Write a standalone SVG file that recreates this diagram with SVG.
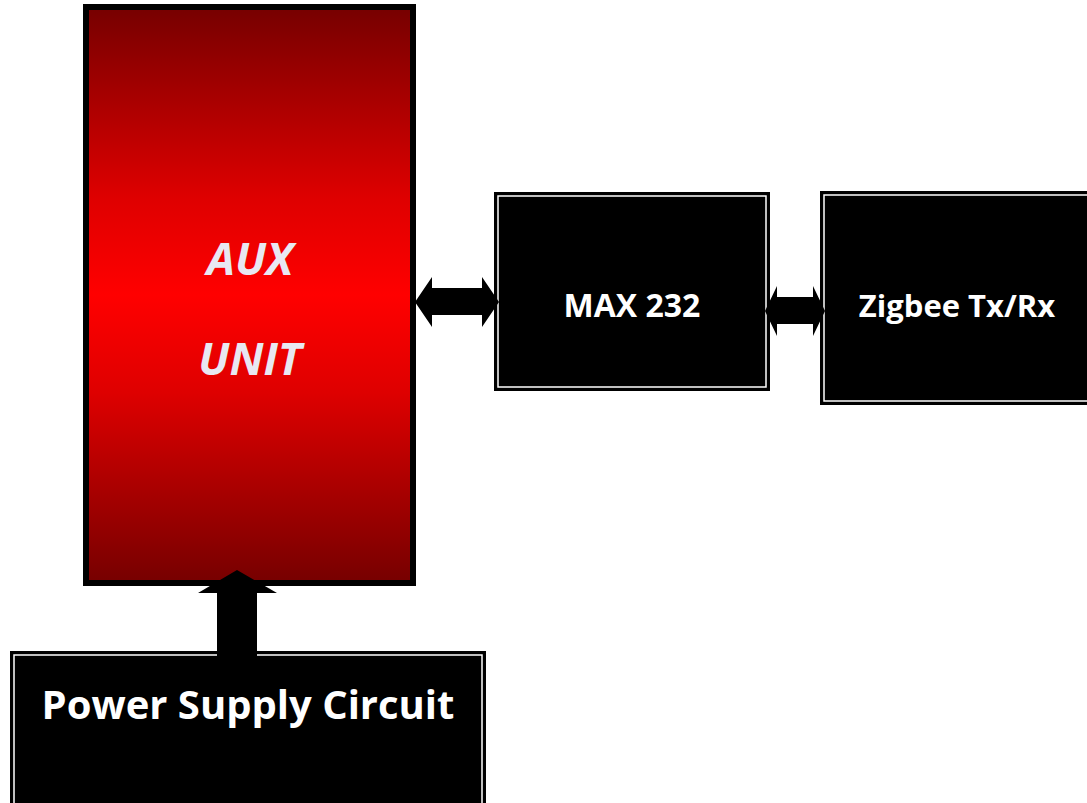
<svg xmlns="http://www.w3.org/2000/svg" width="1087" height="803" viewBox="0 0 1087 803">
<defs>
<linearGradient id="redg" x1="0" y1="0" x2="0" y2="1">
<stop offset="0" stop-color="#760000"/>
<stop offset="0.16" stop-color="#a80000"/>
<stop offset="0.33" stop-color="#de0000"/>
<stop offset="0.5" stop-color="#ff0000"/>
<stop offset="0.67" stop-color="#de0000"/>
<stop offset="0.84" stop-color="#a80000"/>
<stop offset="1" stop-color="#760000"/>
</linearGradient>
</defs>
<style>
.box{fill:#000;stroke:#000;stroke-width:2}
.inner{fill:none;stroke:#fff;stroke-width:1.5}
.lbl{font-family:"Open Sans","Noto Sans",sans-serif;font-weight:bold;fill:#fff;text-anchor:middle}
.aux{font-family:"Open Sans","Noto Sans",sans-serif;font-weight:bold;font-style:italic;fill:#e8e8f2;text-anchor:middle;font-size:45px}
.arrow{fill:#000}
</style>
<rect width="1087" height="803" fill="#fff"/>
<g id="aux">
<rect x="86" y="7" width="327" height="576" fill="url(#redg)" stroke="#000" stroke-width="6"/>
<text class="aux" x="250" y="275">AUX</text>
<text class="aux" x="250" y="375">UNIT</text>
</g>
<g id="max232">
<rect class="box" x="495" y="193" width="274" height="197"/>
<rect class="inner" x="498" y="196" width="268" height="191"/>
<text class="lbl" x="632" y="317" font-size="32">MAX 232</text>
</g>
<g id="zigbee">
<rect class="box" x="821" y="192" width="280" height="212"/>
<rect class="inner" x="824" y="195" width="274" height="206"/>
<text class="lbl" x="957" y="317" font-size="31">Zigbee Tx/Rx</text>
</g>
<g id="power">
<rect class="box" x="11" y="652" width="474" height="160"/>
<rect class="inner" x="14" y="655" width="468" height="160"/>
<text class="lbl" x="248" y="719" font-size="40">Power Supply Circuit</text>
</g>
<g id="connectors">
<polygon class="arrow" points="415,302 432,277 432,288 482,288 482,277 499,302 482,327 482,315 432,315 432,327"/>
<polygon class="arrow" points="765,311 777,286 777,297 813,297 813,286 825,311 813,336 813,324 777,324 777,336"/>
<polygon class="arrow" points="237,570 277,593 257,593 257,656 217,656 217,593 198,593"/>
</g>
</svg>
